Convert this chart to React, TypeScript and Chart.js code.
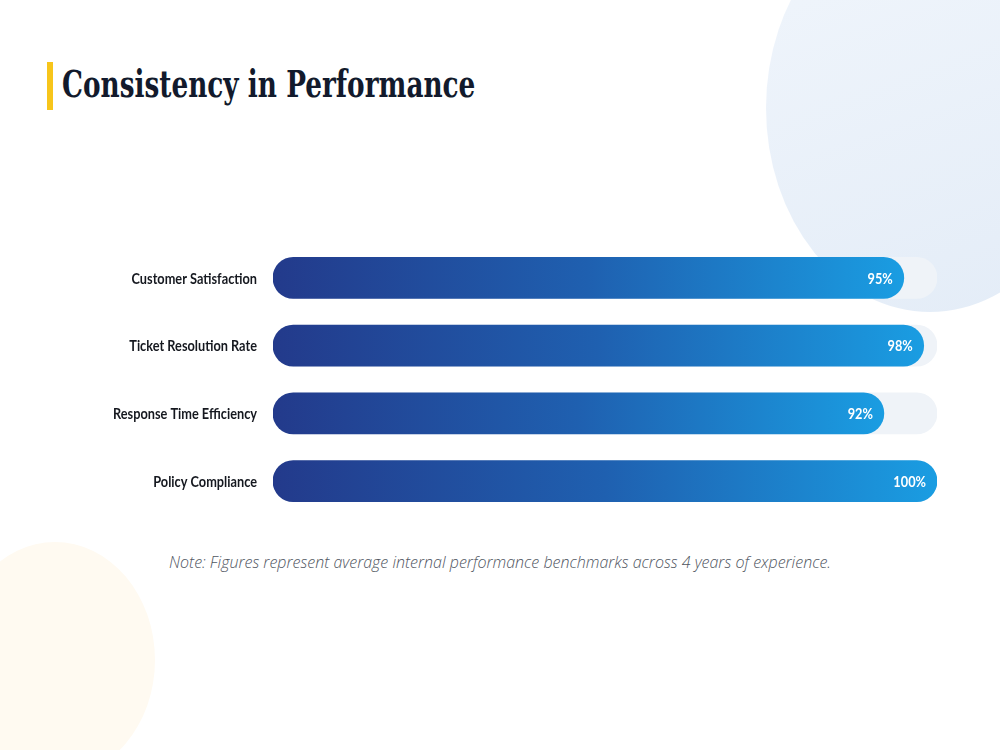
import React, { useEffect, useRef } from "react";
import { Chart, registerables } from "chart.js";

Chart.register(...registerables);

// Performance metrics shown as horizontal progress bars
const categories = [
  "Customer Satisfaction",
  "Ticket Resolution Rate",
  "Response Time Efficiency",
  "Policy Compliance",
];
const scores = [95, 98, 92, 100];
const trackMax = [100, 100, 100, 100];
const valueLabels = ["95%", "98%", "92%", "100%"];

const CANVAS_TOP = 220;
const CANVAS_H = 320;
const PLOT_LEFT = 273;
const PLOT_RIGHT = 937;
const LABEL_FONT = "Lato, 'Open Sans', sans-serif";
const NARROW = 0.85; // horizontal squeeze for a condensed look

// Condensed category names and in-bar values
const labelPlugin = {
  id: "condensedLabels",
  afterDatasetsDraw(chart: any) {
    const ctx = chart.ctx;
    const yScale = chart.scales.y;
    ctx.save();
    ctx.textBaseline = "middle";
    ctx.textAlign = "right";

    ctx.fillStyle = "#15181f";
    ctx.font = `700 15px ${LABEL_FONT}`;
    categories.forEach((name, i) => {
      const py = yScale.getPixelForValue(i);
      ctx.save();
      ctx.translate(PLOT_LEFT - 16, py + 1);
      ctx.scale(NARROW, 1);
      ctx.fillText(name, 0, 0);
      ctx.restore();
    });

    const meta = chart.getDatasetMeta(0);
    ctx.fillStyle = "#ffffff";
    ctx.font = `700 15px ${LABEL_FONT}`;
    meta.data.forEach((bar: any, i: number) => {
      ctx.save();
      ctx.translate(bar.x - 11, bar.y + 1);
      ctx.scale(NARROW, 1);
      ctx.fillText(valueLabels[i], 0, 0);
      ctx.restore();
    });
    ctx.restore();
  },
};

function barGradient(context: any) {
  const chart = context.chart;
  const x = chart.scales?.x;
  if (!x || !chart.chartArea) return "#1e5fb0";
  const v = scores[context.dataIndex] ?? 100;
  const start = x.getPixelForValue(0);
  const end = x.getPixelForValue(v);
  const g = chart.ctx.createLinearGradient(start, 0, end, 0);
  g.addColorStop(0, "#233a8b");
  g.addColorStop(0.5, "#1f60b0");
  g.addColorStop(1, "#1a9de2");
  return g;
}

export default function App() {
  const canvasRef = useRef<HTMLCanvasElement | null>(null);

  useEffect(() => {
    document.body.style.margin = "0";
    const canvas = canvasRef.current;
    if (!canvas) return;
    const chart = new Chart(canvas, {
      type: "bar",
      data: {
        labels: categories,
        datasets: [
          {
            label: "Score",
            data: scores,
            backgroundColor: barGradient,
            borderRadius: 21,
            borderSkipped: false,
            barThickness: 41,
            grouped: false,
            order: 1,
          },
          {
            label: "Track",
            data: trackMax,
            backgroundColor: "#eff3f8",
            borderRadius: 21,
            borderSkipped: false,
            barThickness: 41,
            grouped: false,
            order: 2,
          },
        ],
      },
      options: {
        indexAxis: "y",
        responsive: false,
        maintainAspectRatio: false,
        animation: false,
        layout: {
          padding: { top: 24, bottom: 25, right: 1000 - PLOT_RIGHT, left: 0 },
        },
        plugins: {
          legend: { display: false },
          tooltip: { enabled: false },
        },
        scales: {
          x: {
            display: false,
            min: 0,
            max: 100,
          },
          y: {
            grid: { display: false, drawTicks: false },
            border: { display: false },
            afterFit(scale: any) {
              scale.width = PLOT_LEFT;
            },
            ticks: {
              display: false,
            },
          },
        },
      },
      plugins: [labelPlugin],
    });
    return () => chart.destroy();
  }, []);

  return (
    <div
      style={{
        position: "fixed",
        left: 0,
        top: 0,
        width: 1000,
        height: 750,
        overflow: "hidden",
        background: "#ffffff",
      }}
    >
      {/* soft decorative shapes */}
      <div
        style={{
          position: "absolute",
          left: 766,
          top: -96,
          width: 328,
          height: 408,
          borderRadius: "50%",
          background: "linear-gradient(160deg, #f1f6fc 0%, #e3ecf7 100%)",
        }}
      />
      <div
        style={{
          position: "absolute",
          left: -45,
          top: 542,
          width: 200,
          height: 236,
          borderRadius: "50%",
          background: "#fffaf1",
        }}
      />
      {/* heading */}
      <div
        style={{
          position: "absolute",
          left: 47,
          top: 62,
          width: 6,
          height: 48,
          background: "#f7c51b",
        }}
      />
      <div
        style={{
          position: "absolute",
          left: 62,
          top: 60,
          fontFamily: "'DejaVu Serif Condensed', 'DejaVu Serif', serif",
          fontWeight: 700,
          fontSize: 38,
          lineHeight: "48px",
          color: "#121a2c",
          whiteSpace: "nowrap",
          transform: "scaleX(0.77)",
          transformOrigin: "left top",
        }}
      >
        Consistency in Performance
      </div>
      <canvas
        ref={canvasRef}
        width={1000}
        height={CANVAS_H}
        style={{ position: "absolute", left: 0, top: CANVAS_TOP, width: 1000, height: CANVAS_H }}
      />
      <div
        style={{
          position: "absolute",
          left: 0,
          top: 550,
          width: 1000,
          textAlign: "center",
          fontFamily: "'Open Sans', sans-serif",
          fontStyle: "italic",
          fontWeight: 300,
          fontSize: 16,
          lineHeight: "24px",
          color: "#50565f",
          whiteSpace: "nowrap",
        }}
      >
        Note: Figures represent average internal performance benchmarks across 4 years of experience.
      </div>
    </div>
  );
}
